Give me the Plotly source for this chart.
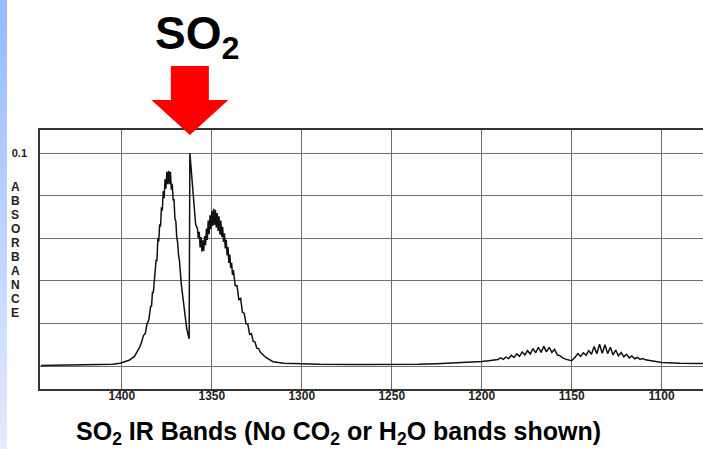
import plotly.graph_objects as go

# SO2 infrared absorbance spectrum (wavenumber in cm-1, absorbance units)
wavenumber = [
    1445, 1430, 1415, 1405, 1401, 1398, 1396, 1393, 1391, 1390, 1389,
    1388, 1387, 1386, 1385,
    1384, 1383.5, 1383, 1382.5, 1382, 1381.5, 1381, 1380.5, 1380, 1379.5,
    1379, 1378.5, 1378, 1377.5, 1377, 1376.5, 1376, 1375.5, 1375, 1374.5,
    1374, 1373.5, 1373, 1372.5, 1372, 1371.5, 1371, 1370.5, 1370, 1369.5,
    1369, 1368.5, 1368,
    1367, 1366, 1365, 1364, 1363, 1362.6, 1362.2, 1361.3, 1360, 1359,
    1358, 1357.5, 1357, 1356.5, 1356, 1355.5, 1355, 1354.5, 1354, 1353.5,
    1353, 1352.5, 1352, 1351.5, 1351, 1350.5, 1350, 1349.5, 1349, 1348.5,
    1348, 1347.5, 1347, 1346.5, 1346, 1345.5, 1345, 1344.5, 1344, 1343.5,
    1343, 1342.5, 1342, 1341.5, 1341, 1340.5, 1340, 1339.5, 1339, 1338.5,
    1338,
    1337, 1336, 1335, 1334, 1333, 1332, 1331, 1330, 1329, 1328, 1327, 1326,
    1325, 1324, 1323, 1320, 1316, 1310, 1300, 1290, 1270, 1250, 1235, 1225,
    1215, 1205, 1200, 1195,
    1191, 1189.5, 1188, 1186.5, 1185, 1183.5, 1182, 1180.5, 1179, 1177.5,
    1176, 1174.5, 1173, 1171.5, 1170, 1168.5, 1167, 1165.5, 1164, 1162.5,
    1161, 1159.5, 1158, 1156.5, 1155, 1153, 1151, 1150,
    1148, 1146.5, 1145, 1143.5, 1142, 1140.5, 1139, 1137.5, 1136, 1134.5,
    1133, 1131.5, 1130, 1128.5, 1127, 1125.5, 1124, 1122.5, 1121, 1119.5,
    1118, 1116.5, 1115, 1113.5, 1112, 1110.5, 1109, 1107, 1104, 1100, 1090,
    1077,
]
absorbance = [
    0.0002, 0.0003, 0.0005, 0.0008, 0.0013, 0.0020, 0.0027, 0.0045, 0.0073, 0.0090, 0.0112,
    0.0143, 0.0152, 0.0198, 0.0217,
    0.0280, 0.0282, 0.0345, 0.0345, 0.0405, 0.0415, 0.0495, 0.0495, 0.0600, 0.0585,
    0.0665, 0.0655, 0.0745, 0.0730, 0.0822, 0.0788, 0.0877, 0.0833, 0.0912, 0.0853,
    0.0917, 0.0853, 0.0912, 0.0828, 0.0855, 0.0780, 0.0780, 0.0690, 0.0680, 0.0605,
    0.0580, 0.0520, 0.0495,
    0.0387, 0.0313, 0.0227, 0.0178, 0.0140, 0.0128, 0.1000, 0.0900, 0.0765, 0.0665,
    0.0645, 0.0600, 0.0630, 0.0557, 0.0605, 0.0537, 0.0590, 0.0540, 0.0610, 0.0567,
    0.0645, 0.0592, 0.0683, 0.0619, 0.0708, 0.0642, 0.0728, 0.0657, 0.0738, 0.0662,
    0.0733, 0.0649, 0.0718, 0.0634, 0.0703, 0.0617, 0.0683, 0.0607, 0.0653, 0.0582,
    0.0623, 0.0552, 0.0593, 0.0519, 0.0558, 0.0484, 0.0523, 0.0460, 0.0485, 0.0427,
    0.0450,
    0.0377, 0.0378, 0.0312, 0.0318, 0.0253, 0.0247, 0.0198, 0.0197, 0.0148, 0.0152, 0.0116, 0.0112,
    0.0084, 0.0082, 0.0064, 0.0040, 0.0020, 0.0013, 0.0009, 0.0008, 0.0007, 0.0007, 0.0008, 0.0011,
    0.0014, 0.0018, 0.0021, 0.0026,
    0.0030, 0.0038, 0.0031, 0.0042, 0.0035, 0.0050, 0.0040, 0.0057, 0.0045, 0.0066,
    0.0052, 0.0072, 0.0056, 0.0082, 0.0062, 0.0088, 0.0064, 0.0092, 0.0066, 0.0088,
    0.0064, 0.0078, 0.0052, 0.0048, 0.0038, 0.0031, 0.0026, 0.0025,
    0.0042, 0.0058, 0.0045, 0.0062, 0.0050, 0.0072, 0.0055, 0.0092, 0.0058, 0.0102,
    0.0060, 0.0100, 0.0058, 0.0088, 0.0052, 0.0075, 0.0048, 0.0063, 0.0043, 0.0055,
    0.0038, 0.0047, 0.0034, 0.0040, 0.0031, 0.0035, 0.0029, 0.0027, 0.0022, 0.0017, 0.0013,
    0.0012,
]

x_ticks = [1400, 1350, 1300, 1250, 1200, 1150, 1100]
y_labelled = [0.1]
y_label_text = ["0.1"]
y_grid_minor = [0, 0.02, 0.04, 0.06, 0.08]
y_title_letters = list("ABSORBANCE")

X_RANGE = [1445.5, 1077.0]
Y_RANGE = [-0.0108, 0.1108]

W, H = 703, 449
M_L, M_R, M_T, M_B = 40, 0, 130, 60
PLOT_W = W - M_L - M_R
PLOT_H = H - M_T - M_B

FONT = "Liberation Sans, Arial, sans-serif"
GRID = "#6e6e6e"


def px_to_paper_x(px):
    return (px - M_L) / PLOT_W


def px_to_paper_y(py):
    return (H - M_B - py) / PLOT_H


def wn_to_paper_x(wn):
    return (X_RANGE[0] - wn) / (X_RANGE[0] - X_RANGE[1])


fig = go.Figure()

fig.add_trace(go.Scatter(
    x=wavenumber,
    y=absorbance,
    mode="lines",
    line=dict(color="#111111", width=1.5),
    hoverinfo="skip",
    showlegend=False,
))

shapes = []

# pale blue slide strip along the left edge
n_bands = 40
top_rgb = (150, 186, 255)
bot_rgb = (228, 234, 255)
for i in range(n_bands):
    t = i / (n_bands - 1)
    r = round(top_rgb[0] + (bot_rgb[0] - top_rgb[0]) * t)
    g = round(top_rgb[1] + (bot_rgb[1] - top_rgb[1]) * t)
    b = round(top_rgb[2] + (bot_rgb[2] - top_rgb[2]) * t)
    y0 = H * i / n_bands
    y1 = H * (i + 1) / n_bands + 0.5
    shapes.append(dict(
        type="rect", xref="paper", yref="paper",
        x0=px_to_paper_x(0), x1=px_to_paper_x(7),
        y0=px_to_paper_y(y1), y1=px_to_paper_y(y0),
        fillcolor=f"rgb({r},{g},{b})", line=dict(width=0), layer="below",
    ))

# red arrow pointing down at the strongest absorption line
peak_idx = max(range(len(absorbance)), key=lambda i: absorbance[i])
tip_x = wn_to_paper_x(wavenumber[peak_idx])
px_unit = 1.0 / PLOT_W
shaft_half = 19 * px_unit
head_half = 38.5 * px_unit
y_tip = px_to_paper_y(135)
y_head = px_to_paper_y(100)
y_tail = px_to_paper_y(66)
arrow_path = (
    f"M {tip_x - shaft_half},{y_tail} L {tip_x + shaft_half},{y_tail} "
    f"L {tip_x + shaft_half},{y_head} L {tip_x + head_half},{y_head} "
    f"L {tip_x},{y_tip} L {tip_x - head_half},{y_head} "
    f"L {tip_x - shaft_half},{y_head} Z"
)
shapes.append(dict(
    type="path", xref="paper", yref="paper", path=arrow_path,
    fillcolor="#ff0000", line=dict(width=0), layer="above",
))

annotations = [
    dict(
        text="<b>SO<sub>2</sub></b>",
        xref="paper", yref="paper",
        x=px_to_paper_x(197), y=px_to_paper_y(36),
        xanchor="center", yanchor="middle",
        showarrow=False,
        font=dict(family=FONT, size=46, color="#000000"),
    ),
    dict(
        text="<b>SO<sub>2</sub> IR Bands (No CO<sub>2</sub> or H<sub>2</sub>O bands shown)</b>",
        xref="paper", yref="paper",
        x=px_to_paper_x(338), y=px_to_paper_y(433),
        xanchor="center", yanchor="middle",
        showarrow=False,
        font=dict(family=FONT, size=25, color="#000000"),
    ),
]

# vertical axis title, one stacked letter per line
letter_top, letter_step = 187, 14
for k, letter in enumerate(y_title_letters):
    annotations.append(dict(
        text=f"<b>{letter}</b>",
        xref="paper", yref="paper",
        x=px_to_paper_x(15), y=px_to_paper_y(letter_top + k * letter_step),
        xanchor="center", yanchor="middle",
        showarrow=False,
        font=dict(family=FONT, size=12, color="#222222"),
    ))

fig.update_layout(
    width=W,
    height=H,
    autosize=False,
    margin=dict(l=M_L, r=M_R, t=M_T, b=M_B, pad=0),
    paper_bgcolor="#ffffff",
    plot_bgcolor="#ffffff",
    showlegend=False,
    shapes=shapes,
    annotations=annotations,
    xaxis=dict(
        range=X_RANGE,
        tickvals=x_ticks,
        ticktext=[str(v) for v in x_ticks],
        ticks="",
        ticklabelstandoff=-5,
        showgrid=True,
        gridcolor=GRID,
        gridwidth=1.2,
        zeroline=False,
        showline=True,
        linecolor="#333333",
        linewidth=1.5,
        mirror=True,
        tickfont=dict(family=FONT, size=12, color="#222222", weight="bold"),
        automargin=False,
        fixedrange=True,
    ),
    yaxis=dict(
        range=Y_RANGE,
        tickvals=y_labelled,
        ticktext=y_label_text,
        ticks="",
        ticklabelstandoff=9,
        showgrid=True,
        gridcolor=GRID,
        gridwidth=1.2,
        minor=dict(
            tickmode="array",
            tickvals=y_grid_minor,
            showgrid=True,
            gridcolor=GRID,
            gridwidth=1.2,
            ticks="",
        ),
        zeroline=False,
        showline=True,
        linecolor="#333333",
        linewidth=1.5,
        mirror=False,
        tickfont=dict(family=FONT, size=11, color="#222222", weight="bold"),
        automargin=False,
        fixedrange=True,
    ),
)

fig.write_html("out.html", config={"displayModeBar": False})
